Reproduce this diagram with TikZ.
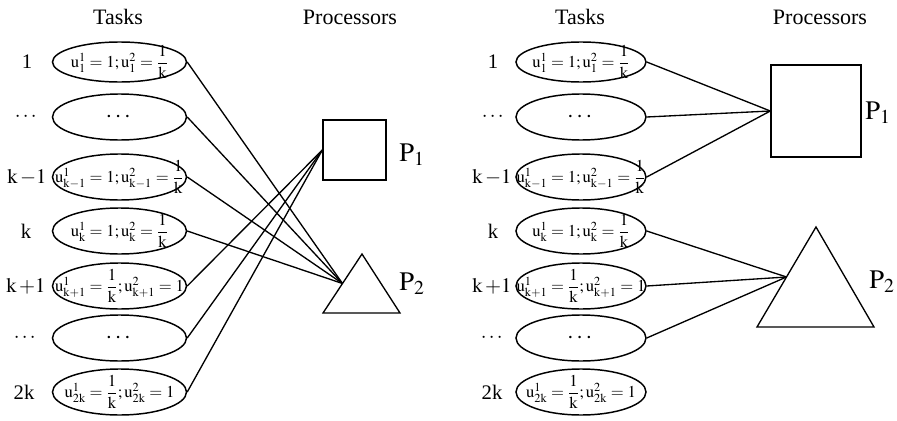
\documentclass[tikz,border=0pt]{standalone}
\usepackage{amsmath}
\usepackage{mathptmx}
\usepackage{fontspec}
\setmainfont{Liberation Serif}
\usetikzlibrary{calc,shapes.geometric}
\newcommand{\uvar}[2]{\mathrm{u}^{#1}_{#2}}
\newcommand{\kvar}{\mathrm{k}}
\tikzset{
  taskell/.style={draw,ellipse,line width=1.1pt,inner sep=0pt,minimum width=100.5pt,minimum height=34.5pt},
  tasktext/.style={font=\fontsize{12.5}{14}\selectfont,inner sep=0pt},
  taskdots/.style={font=\fontsize{18}{20}\selectfont,inner sep=0pt},
  rowlab/.style={font=\fontsize{15.5}{17}\selectfont},
  headlab/.style={font=\fontsize{16.5}{19}\selectfont},
  proclab/.style={font=\fontsize{20}{22}\selectfont},
  procbox/.style={draw,line width=1pt,inner sep=0pt},
  link/.style={line width=1pt}
}

\begin{document}
\begin{tikzpicture}[x=0.75pt,y=-0.75pt]
  \useasboundingbox (0,0) rectangle (897,421);
  % left panel
  \node[headlab] (hTL) at (118,17) {Tasks};
  \node[headlab] (hPL) at (350,17) {Processors};
  \node[rowlab] (rL1) at (27,62) {1};
  \node[rowlab] (rL2) at (27,117) {$\cdots$};
  \node[rowlab] (rL3) at (27,177) {$\kvar\,{-}1$};
  \node[rowlab] (rL4) at (26,231) {k};
  \node[rowlab] (rL5) at (26,286) {$\kvar\,{+}1$};
  \node[rowlab] (rL6) at (26,338) {$\cdots$};
  \node[rowlab] (rL7) at (24,392) {2k};
  \node[taskell,minimum height=30pt,label={[tasktext]center:$\uvar{1}{1}=1;\uvar{2}{1}=\dfrac{1}{\kvar}$}] (tL1) at (119.5,62) {};
  \node[taskell,label={[taskdots]center:$\cdots$}] (tL2) at (119.5,117) {};
  \node[taskell,label={[tasktext]center:$\uvar{1}{\kvar-1}=1;\uvar{2}{\kvar-1}=\dfrac{1}{\kvar}$}] (tL3) at (119.5,177) {};
  \node[taskell,label={[tasktext]center:$\uvar{1}{\kvar}=1;\uvar{2}{\kvar}=\dfrac{1}{\kvar}$}] (tL4) at (119.5,231) {};
  \node[taskell,label={[tasktext]center:$\uvar{1}{\kvar+1}=\dfrac{1}{\kvar};\uvar{2}{\kvar+1}=1$}] (tL5) at (119.5,286) {};
  \node[taskell,label={[taskdots]center:$\cdots$}] (tL6) at (119.5,338) {};
  \node[taskell,label={[tasktext]center:$\uvar{1}{2\kvar}=\dfrac{1}{\kvar};\uvar{2}{2\kvar}=1$}] (tL7) at (119.5,392) {};
  \node[procbox,minimum width=47.25pt,minimum height=45pt] (sqL) at (354.5,150) {};
  \coordinate (triLa) at (362,254);
  \coordinate (triLb) at (323,313);
  \coordinate (triLc) at (400,313);
  \draw[procbox] (triLa) -- (triLb) -- (triLc) -- cycle;
  \coordinate (triLin) at ($(triLb)!0.5!(triLa)$);
  \node[proclab] (pL1) at (412,155) {$\mathrm{P}_1$};
  \node[proclab] (pL2) at (412,284) {$\mathrm{P}_2$};
  \foreach \i in {1,...,4} \draw[link] (tL\i.east) -- (triLin);
  \foreach \i in {5,...,7} \draw[link] (tL\i.east) -- (sqL.west);

  % right panel
  \node[headlab] (hTR) at (580,17) {Tasks};
  \node[headlab] (hPR) at (820,17) {Processors};
  \node[rowlab] (rR1) at (493,62) {1};
  \node[rowlab] (rR2) at (494,117) {$\cdots$};
  \node[rowlab] (rR3) at (492,177) {$\kvar\,{-}1$};
  \node[rowlab] (rR4) at (493,231) {k};
  \node[rowlab] (rR5) at (492,286) {$\kvar\,{+}1$};
  \node[rowlab] (rR6) at (493,338) {$\cdots$};
  \node[rowlab] (rR7) at (492,392) {2k};
  \node[taskell,minimum width=97.5pt,minimum height=30pt,label={[tasktext]center:$\uvar{1}{1}=1;\uvar{2}{1}=\dfrac{1}{\kvar}$}] (tR1) at (581,62) {};
  \node[taskell,minimum width=97.5pt,label={[taskdots]center:$\cdots$}] (tR2) at (581,117) {};
  \node[taskell,minimum width=97.5pt,label={[tasktext]center:$\uvar{1}{\kvar-1}=1;\uvar{2}{\kvar-1}=\dfrac{1}{\kvar}$}] (tR3) at (581,177) {};
  \node[taskell,minimum width=97.5pt,label={[tasktext]center:$\uvar{1}{\kvar}=1;\uvar{2}{\kvar}=\dfrac{1}{\kvar}$}] (tR4) at (581,231) {};
  \node[taskell,minimum width=97.5pt,label={[tasktext]center:$\uvar{1}{\kvar+1}=\dfrac{1}{\kvar};\uvar{2}{\kvar+1}=1$}] (tR5) at (581,286) {};
  \node[taskell,minimum width=97.5pt,label={[taskdots]center:$\cdots$}] (tR6) at (581,338) {};
  \node[taskell,minimum width=97.5pt,label={[tasktext]center:$\uvar{1}{2\kvar}=\dfrac{1}{\kvar};\uvar{2}{2\kvar}=1$}] (tR7) at (581,392) {};
  \node[procbox,minimum width=67.5pt,minimum height=69pt] (sqR) at (816,111) {};
  \coordinate (triRa) at (816,227);
  \coordinate (triRb) at (757,327);
  \coordinate (triRc) at (874,327);
  \draw[procbox] (triRa) -- (triRb) -- (triRc) -- cycle;
  \coordinate (triRin) at ($(triRb)!0.5!(triRa)$);
  \node[proclab] (pR1) at (878,113) {$\mathrm{P}_1$};
  \node[proclab] (pR2) at (882,282) {$\mathrm{P}_2$};
  \foreach \i in {1,...,3} \draw[link] (tR\i.east) -- (sqR.west);
  \foreach \i in {4,...,6} \draw[link] (tR\i.east) -- (triRin);
\end{tikzpicture}
\end{document}
